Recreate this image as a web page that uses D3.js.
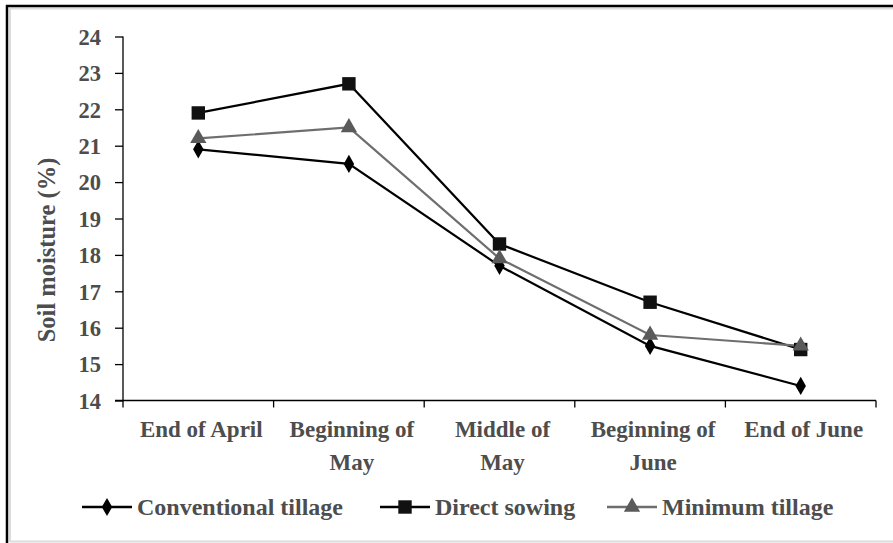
<!DOCTYPE html>
<html>
<head>
<meta charset="utf-8">
<script src="https://cdn.jsdelivr.net/npm/d3@7"></script>
<style>
	body { margin: 0; background: #fff; }
	text { font-family: "Liberation Serif", "Times New Roman", serif; font-weight: bold; fill: #4d4d4d; }
</style>
</head>
<body>
<script>
const width = 893;
const height = 543;

// data
const categories = ['End of April', 'Beginning of May', 'Middle of May', 'Beginning of June', 'End of June'];
const categoryLines = [['End of April'], ['Beginning of', 'May'], ['Middle of', 'May'], ['Beginning of', 'June'], ['End of June']];
const conventional = [20.9, 20.5, 17.7, 15.5, 14.4];
const directSowing = [21.9, 22.7, 18.3, 16.7, 15.4];
const minimumTillage = [21.2, 21.5, 17.9, 15.8, 15.5];
const yTicks = [14, 15, 16, 17, 18, 19, 20, 21, 22, 23, 24];

const series = [
	{ name: 'Conventional tillage', values: conventional, color: '#000', markerColor: '#000', symbol: d3.symbolDiamond, size: 95 },
	{ name: 'Direct sowing', values: directSowing, color: '#000', markerColor: '#111', symbol: d3.symbolSquare, size: 180 },
	{ name: 'Minimum tillage', values: minimumTillage, color: '#6e6e6e', markerColor: '#5a5a5a', symbol: d3.symbolTriangle, size: 115 },
];

const svg = d3.select('body')
	.append('svg')
	.attr('width', width)
	.attr('height', height);

// frame (cropped picture: only top/left dark border)
svg.append('line').attr('x1', 10).attr('x2', width).attr('y1', 8.5).attr('y2', 8.5).attr('stroke', '#dcdcdc').attr('stroke-width', 2);
svg.append('line').attr('x1', 10).attr('x2', 10).attr('y1', 8).attr('y2', 542).attr('stroke', '#dcdcdc').attr('stroke-width', 2);
svg.append('line').attr('x1', 10).attr('x2', width).attr('y1', 541.5).attr('y2', 541.5).attr('stroke', '#dcdcdc').attr('stroke-width', 2);
svg.append('line').attr('x1', 6).attr('x2', width).attr('y1', 6).attr('y2', 6).attr('stroke', '#000').attr('stroke-width', 2.5);
svg.append('line').attr('x1', 7).attr('x2', 7).attr('y1', 5).attr('y2', height).attr('stroke', '#000').attr('stroke-width', 2.5);

const x = d3.scaleBand().domain(categories).range([123, 876]).padding(0);
const y = d3.scaleLinear().domain([14, 24]).range([400.5, 36.5]);
const cx = c => x(c) + x.bandwidth() / 2;

// y axis
const yAxis = svg.append('g')
	.attr('transform', 'translate(123,0)')
	.call(d3.axisLeft(y).tickValues(yTicks).tickSize(8).tickPadding(14).tickFormat(d3.format('d')));
yAxis.select('.domain').attr('stroke', '#000').attr('stroke-width', 1.3).attr('d', `M0,${y(24)}V${y(14)}`);
yAxis.selectAll('.tick line').attr('stroke', '#000').attr('stroke-width', 1.3);
yAxis.selectAll('.tick text').attr('font-size', 22.5).attr('fill', '#4d4d4d').attr('dy', '0.35em');

// x axis with ticks on category boundaries
const xAxis = svg.append('g').attr('transform', `translate(0,${y(14)})`);
xAxis.append('line').attr('x1', 115).attr('x2', 876).attr('stroke', '#000').attr('stroke-width', 1.3);
const bounds = categories.map(c => x(c)).concat([x.range()[1]]);
xAxis.selectAll('.xtick')
	.data(bounds)
	.enter()
	.append('line')
	.attr('x1', d => d).attr('x2', d => d)
	.attr('y1', 0).attr('y2', 7)
	.attr('stroke', '#000').attr('stroke-width', 1.3);

const catLabel = svg.append('g')
	.selectAll('text')
	.data(categories)
	.enter()
	.append('text')
	.attr('text-anchor', 'middle')
	.attr('font-size', 23)
	.attr('y', 437);
catLabel.each(function (c, i) {
	d3.select(this).selectAll('tspan')
		.data(categoryLines[i])
		.enter()
		.append('tspan')
		.attr('x', cx(c) + 3)
		.attr('dy', (d, j) => j === 0 ? 0 : 33)
		.text(d => d);
});

// y axis title
svg.append('text')
	.attr('transform', 'translate(55,250) rotate(-90)')
	.attr('text-anchor', 'middle')
	.attr('font-size', 24.5)
	.text('Soil moisture (%)');

// lines
const line = d3.line()
	.x((d, i) => cx(categories[i]))
	.y(d => y(d));

svg.append('g')
	.selectAll('path')
	.data(series)
	.enter()
	.append('path')
	.attr('d', d => line(d.values))
	.attr('fill', 'none')
	.attr('stroke', d => d.color)
	.attr('stroke-width', 2.2);

// markers
series.forEach(s => {
	svg.append('g')
		.selectAll('path')
		.data(s.values)
		.enter()
		.append('path')
		.attr('d', d3.symbol().type(s.symbol).size(s.size))
		.attr('transform', (d, i) => `translate(${cx(categories[i])},${y(d)})`)
		.attr('fill', s.markerColor);
});

// legend
const legendX = [82, 380, 607];
const legend = svg.append('g')
	.selectAll('g')
	.data(series)
	.enter()
	.append('g')
	.attr('transform', (d, i) => `translate(${legendX[i]},507)`);
legend.append('line')
	.attr('x1', 0).attr('x2', 50)
	.attr('stroke', d => d.color)
	.attr('stroke-width', 2.5);
legend.append('path')
	.attr('d', d => d3.symbol().type(d.symbol).size(d.size)())
	.attr('transform', 'translate(25,0)')
	.attr('fill', d => d.markerColor);
legend.append('text')
	.attr('x', 55)
	.attr('y', 8)
	.attr('font-size', 24)
	.text(d => d.name);
</script>
</body>
</html>
